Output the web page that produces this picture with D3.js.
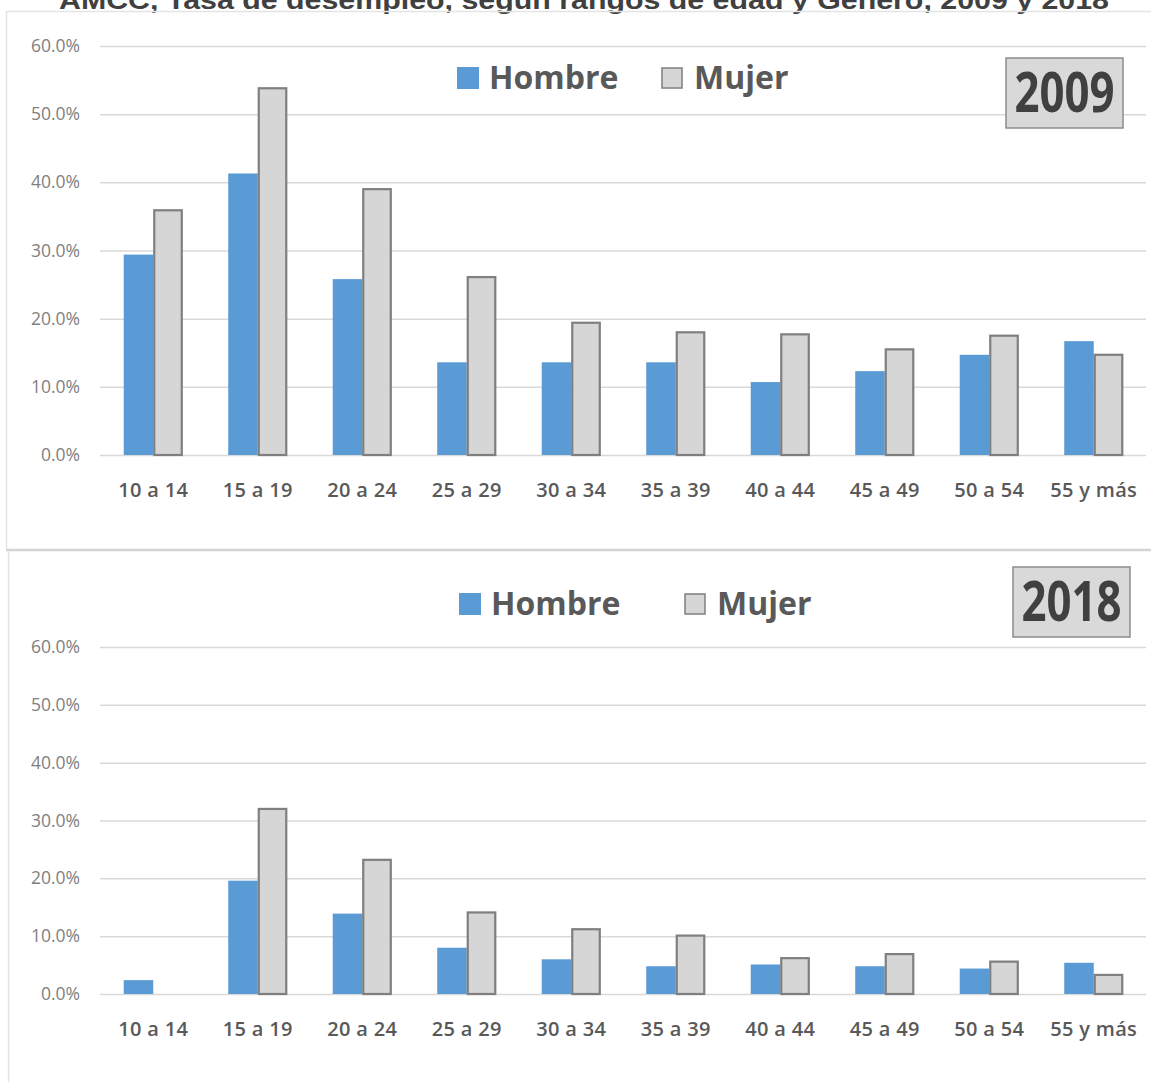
<!DOCTYPE html>
<html>
<head>
<meta charset="utf-8">
<script src="https://cdn.jsdelivr.net/npm/d3@7"></script>
<style>
  body { margin: 0; background: #fff; }
  svg { display: block; }
</style>
</head>
<body>
<div class="graph"></div>
<script>
// age groups (x axis)
var ageGroups = ["10 a 14", "15 a 19", "20 a 24", "25 a 29", "30 a 34", "35 a 39", "40 a 44", "45 a 49", "50 a 54", "55 y más"];

// series values, in %
var hombre2009 = [29.4, 41.3, 25.8, 13.6, 13.6, 13.6, 10.7, 12.3, 14.7, 16.7];
var mujer2009  = [35.9, 53.8, 39.0, 26.1, 19.4, 18.0, 17.7, 15.5, 17.5, 14.7];
var hombre2018 = [2.4, 19.6, 13.9, 8.0, 6.0, 4.8, 5.1, 4.8, 4.4, 5.4];
var mujer2018  = [0, 32.0, 23.2, 14.1, 11.2, 10.1, 6.2, 6.9, 5.6, 3.3];

var seriesNames = ["Hombre", "Mujer"];
var yTicks = [0, 10, 20, 30, 40, 50, 60];
var title = "AMCC, Tasa de desempleo, según rangos de edad y Género, 2009 y 2018";

var width = 1151, height = 1084;
var blue = "#5b9bd5", grey = "#d6d6d6", greyStroke = "#7f7f7f";

var svg = d3.select(".graph")
  .append("svg")
  .attr("width", width)
  .attr("height", height);

// title, cut off at the top of the picture
svg.append("text")
  .attr("x", 584)
  .attr("y", 9)
  .attr("text-anchor", "middle")
  .attr("font-family", "Liberation Sans, Arial, sans-serif")
  .attr("font-weight", "bold")
  .attr("font-size", 26)
  .attr("textLength", 1050)
  .attr("lengthAdjust", "spacingAndGlyphs")
  .attr("fill", "#404040")
  .text(title);

// panel frames
svg.append("line").attr("x1", 6).attr("x2", width).attr("y1", 11.5).attr("y2", 11.5)
  .attr("stroke", "#e4e4e4").attr("stroke-width", 1.5);
svg.append("line").attr("x1", 6.5).attr("x2", 6.5).attr("y1", 11).attr("y2", 549)
  .attr("stroke", "#e4e4e4").attr("stroke-width", 1.5);
svg.append("line").attr("x1", 6).attr("x2", width).attr("y1", 550).attr("y2", 550)
  .attr("stroke", "#d4d4d4").attr("stroke-width", 2.5);
svg.append("line").attr("x1", 8.5).attr("x2", 8.5).attr("y1", 551).attr("y2", 1082)
  .attr("stroke", "#e4e4e4").attr("stroke-width", 1.5);

// x scale shared by both panels
var xScale = d3.scaleBand()
  .domain(ageGroups)
  .range([101, 1146])
  .paddingInner(0.435)
  .paddingOuter(0.2175);

var xSub = d3.scaleBand()
  .domain(seriesNames)
  .range([0, xScale.bandwidth()]);

function drawPanel(p) {
  var yScale = d3.scaleLinear()
    .domain([0, 60])
    .range([p.y0, p.y60]);

  var g = svg.append("g");

  // gridlines
  g.append("g")
    .attr("transform", "translate(100,0)")
    .call(d3.axisLeft(yScale).tickValues(yTicks).tickSize(-1046).tickFormat(""))
    .call(function(a) {
      a.select(".domain").remove();
      a.selectAll(".tick line").attr("stroke", "#d9d9d9").attr("stroke-width", 1.5);
    });

  // y tick labels
  g.selectAll(".ylab")
    .data(yTicks)
    .enter()
    .append("text")
    .attr("class", "ylab")
    .attr("x", 80)
    .attr("y", function(d) { return yScale(d) + 6; })
    .attr("text-anchor", "end")
    .attr("font-family", "Open Sans, sans-serif")
    .attr("font-size", 17.5)
    .attr("fill", "#7f7f7f")
    .text(function(d) { return d.toFixed(1) + "%"; });

  // x labels
  g.selectAll(".xlab")
    .data(ageGroups)
    .enter()
    .append("text")
    .attr("class", "xlab")
    .attr("x", function(d) { return xScale(d) + xScale.bandwidth() / 2; })
    .attr("y", p.labelY)
    .attr("text-anchor", "middle")
    .attr("font-family", "Open Sans, sans-serif")
    .attr("font-weight", 600)
    .attr("font-size", 20)
    .attr("letter-spacing", 0.3)
    .attr("fill", "#595959")
    .text(function(d) { return d; });

  // bars
  var rows = ageGroups.map(function(a, i) {
    return {age: a, Hombre: p.hombre[i], Mujer: p.mujer[i]};
  });

  g.selectAll(".hombre")
    .data(rows)
    .enter()
    .append("rect")
    .attr("class", "hombre")
    .attr("x", function(d) { return xScale(d.age) + xSub("Hombre"); })
    .attr("y", function(d) { return yScale(d.Hombre); })
    .attr("width", xSub.bandwidth())
    .attr("height", function(d) { return p.y0 - yScale(d.Hombre); })
    .attr("fill", blue);

  g.selectAll(".mujer")
    .data(rows.filter(function(d) { return d.Mujer > 0; }))
    .enter()
    .append("rect")
    .attr("class", "mujer")
    .attr("x", function(d) { return xScale(d.age) + xSub("Mujer") + 1; })
    .attr("y", function(d) { return yScale(d.Mujer); })
    .attr("width", xSub.bandwidth() - 2)
    .attr("height", function(d) { return p.y0 - yScale(d.Mujer); })
    .attr("fill", grey)
    .attr("stroke", greyStroke)
    .attr("stroke-width", 2.2);

  // legend
  var leg = g.append("g");
  leg.append("rect")
    .attr("x", p.legX).attr("y", p.legY - 22)
    .attr("width", 22).attr("height", 22)
    .attr("fill", blue);
  leg.append("text")
    .attr("x", p.legX + 32).attr("y", p.legY)
    .attr("font-family", "Open Sans, sans-serif")
    .attr("font-weight", "bold")
    .attr("font-size", 32)
    .attr("fill", "#595959")
    .text(seriesNames[0]);
  leg.append("rect")
    .attr("x", p.legX2 + 1).attr("y", p.legY - 21)
    .attr("width", 20).attr("height", 20)
    .attr("fill", grey)
    .attr("stroke", greyStroke)
    .attr("stroke-width", 1.5);
  leg.append("text")
    .attr("x", p.legX2 + 33).attr("y", p.legY)
    .attr("font-family", "Open Sans, sans-serif")
    .attr("font-weight", "bold")
    .attr("font-size", 32)
    .attr("fill", "#595959")
    .text(seriesNames[1]);

  // year box
  g.append("rect")
    .attr("x", p.boxX).attr("y", p.boxY)
    .attr("width", 117).attr("height", 70)
    .attr("fill", "#d9d9d9")
    .attr("stroke", "#8c8c8c")
    .attr("stroke-width", 1.5);
  g.append("text")
    .attr("x", p.boxX + 58.5).attr("y", p.boxY + 54)
    .attr("text-anchor", "middle")
    .attr("font-family", "Open Sans, sans-serif")
    .attr("font-weight", "bold")
    .attr("font-size", 56)
    .attr("textLength", 100)
    .attr("lengthAdjust", "spacingAndGlyphs")
    .attr("fill", "#404040")
    .text(p.year);
}

drawPanel({
  y0: 455, y60: 46, labelY: 497,
  hombre: hombre2009, mujer: mujer2009,
  legX: 457, legX2: 661, legY: 89,
  boxX: 1006, boxY: 58, year: "2009"
});

drawPanel({
  y0: 994, y60: 647, labelY: 1036,
  hombre: hombre2018, mujer: mujer2018,
  legX: 459, legX2: 684, legY: 615,
  boxX: 1013, boxY: 567, year: "2018"
});
</script>
</body>
</html>
